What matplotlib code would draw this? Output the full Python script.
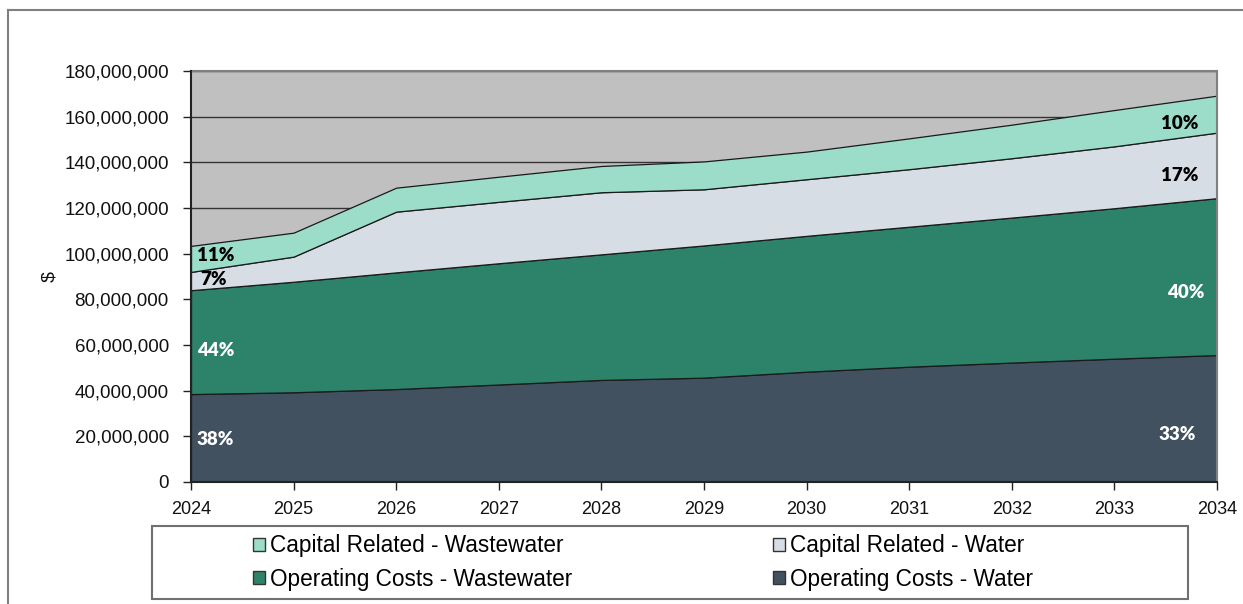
import numpy as np
import matplotlib
matplotlib.use("Agg")
import matplotlib.pyplot as plt
from matplotlib.patches import Patch, Rectangle
from matplotlib.lines import Line2D
from matplotlib.ticker import FuncFormatter

# === DATA (millions of $) ===
YEARS = [2024, 2025, 2026, 2027, 2028, 2029, 2030, 2031, 2032, 2033, 2034]
OPS_WATER = [38.5, 39.3, 40.7, 42.7, 44.7, 45.7, 48.3, 50.5, 52.3, 54.0, 55.6]
OPS_WASTEWATER = [45.5, 48.4, 51.1, 53.1, 55.0, 57.9, 59.5, 61.3, 63.5, 65.9, 68.7]
CAP_WATER = [8.0, 11.0, 26.6, 26.9, 27.2, 24.6, 24.8, 25.2, 26.0, 27.1, 28.7]
CAP_WASTEWATER = [11.4, 10.5, 10.5, 11.0, 11.5, 12.2, 12.1, 13.5, 14.7, 15.9, 16.2]

SERIES_NAMES = ["Operating Costs - Water", "Operating Costs - Wastewater",
                "Capital Related - Water", "Capital Related - Wastewater"]
COLORS = ["#41515F", "#2D826A", "#D7DDE5", "#9BDDC9"]

# share labels: (text, x, y in millions, color)
PCT_LABELS = [
    ("11%", 2024.24, 99.0, "black"),
    ("7%", 2024.22, 88.5, "black"),
    ("44%", 2024.24, 57.8, "white"),
    ("38%", 2024.24, 18.4, "white"),
    ("10%", 2033.64, 157.2, "black"),
    ("17%", 2033.64, 134.4, "black"),
    ("40%", 2033.70, 83.2, "white"),
    ("33%", 2033.61, 20.6, "white"),
]

W, H = 1243, 604
plt.rcParams['font.family'] = ['Liberation Sans', 'DejaVu Sans']

fig = plt.figure(figsize=(W / 100, H / 100), dpi=100)
fig.patch.set_facecolor('white')

# outer chart border (top + left)
fig.add_artist(Line2D([8 / W, 8 / W], [0, 1 - 9.5 / H], transform=fig.transFigure,
                      color='#808080', lw=1.5))
fig.add_artist(Line2D([8 / W, 1], [1 - 9.5 / H, 1 - 9.5 / H], transform=fig.transFigure,
                      color='#808080', lw=1.5))

ax = fig.add_axes([191 / W, 1 - 482 / H, (1217 - 191) / W, (482 - 71) / H])
ax.set_facecolor('#C0C0C0')

vals = np.array([OPS_WATER, OPS_WASTEWATER, CAP_WATER, CAP_WASTEWATER]) * 1e6
ax.stackplot(YEARS, vals, colors=COLORS, edgecolor='#1a1a1a', linewidth=0.9, zorder=2)

ax.set_xlim(2024, 2034)
ax.set_ylim(0, 180e6)
ax.set_xticks(YEARS)
ax.set_yticks(np.arange(0, 180e6 + 1, 20e6))
ax.yaxis.set_major_formatter(FuncFormatter(lambda v, p: f"{int(v):,}"))
ax.grid(axis='y', color='#333333', lw=1.0, zorder=0)
ax.set_axisbelow(True)

for s in ['top', 'right']:
    ax.spines[s].set_color('#808080')
    ax.spines[s].set_linewidth(1.5)
for s in ['left', 'bottom']:
    ax.spines[s].set_color('#222222')
    ax.spines[s].set_linewidth(1.5)
    ax.spines[s].set_zorder(5)

ax.tick_params(axis='both', direction='out', length=6, width=1, color='#222222',
               labelcolor='#111111')
ax.tick_params(axis='y', pad=10, labelsize=13.5)
ax.tick_params(axis='x', pad=8, labelsize=13)
ax.set_ylabel("$", fontsize=14, labelpad=4, color='#111111')

for txt, x, y, c in PCT_LABELS:
    ax.text(x, y * 1e6, txt, ha='center', va='center', color=c, fontsize=13.5,
            fontweight='heavy', family=['Lato', 'DejaVu Sans'], zorder=6)

# legend box
fig.add_artist(Rectangle((152 / W, 1 - 599 / H), (1188 - 152) / W, (599 - 526) / H,
                         transform=fig.transFigure, fill=False, edgecolor='#707070', lw=1.5))

handles = [Patch(facecolor=COLORS[i], edgecolor='#333333', lw=1) for i in [3, 1, 2, 0]]
labels = [SERIES_NAMES[i] for i in [3, 1, 2, 0]]
fig.legend(handles, labels, ncol=2, frameon=False, loc='center left',
           bbox_to_anchor=(253 / W, 1 - 562.5 / H), fontsize=16.3,
           handlelength=0.55, handleheight=0.55, handletextpad=0.2,
           columnspacing=8.85, labelspacing=0.45, borderaxespad=0, borderpad=0)

fig.savefig("out.png", dpi=100, facecolor=fig.get_facecolor())
